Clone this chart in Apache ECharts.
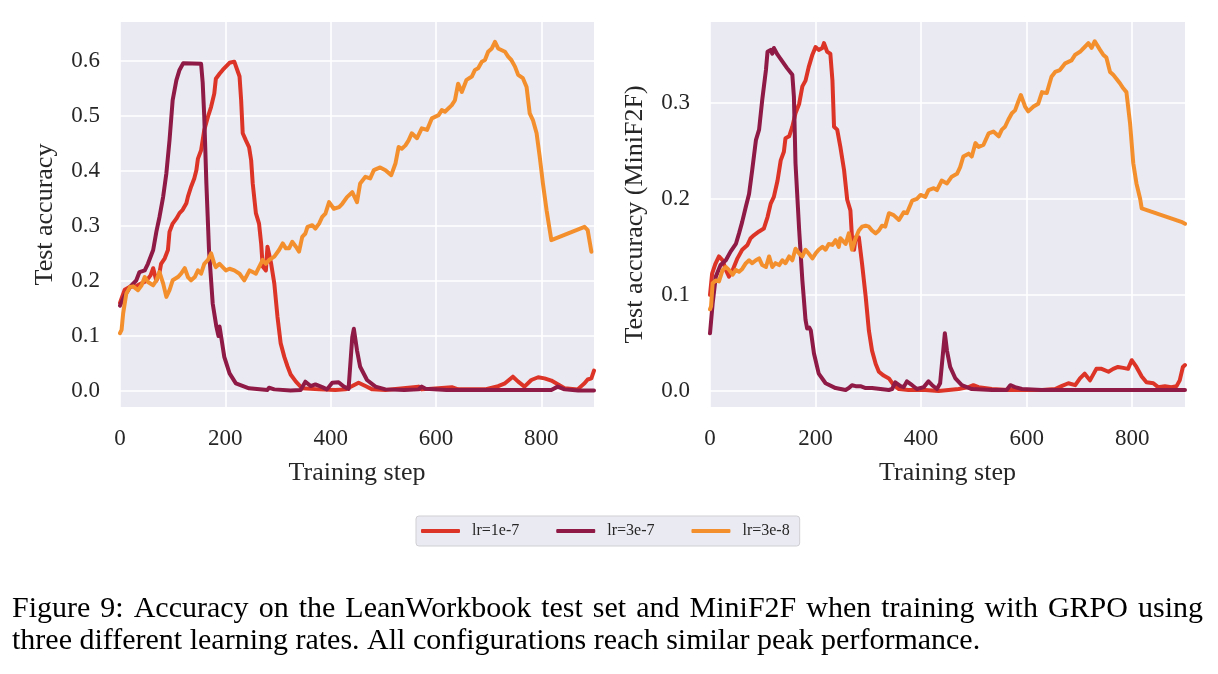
<!DOCTYPE html>
<html>
<head>
<meta charset="utf-8">
<title>Test accuracy vs training step</title>
<script src="https://cdn.jsdelivr.net/npm/echarts@6/dist/echarts.min.js"></script>
<style>
	html, body { margin: 0; padding: 0; background: #fff; }
	#main { width: 1218px; height: 674px; }
</style>
</head>
<body>
<div id="main"></div>
<script>
// x ticks / y ticks
var stepTicks = [0, 200, 400, 600, 800];
var lwTicks = [0, 0.1, 0.2, 0.3, 0.4, 0.5, 0.6];
var mfTicks = [0, 0.1, 0.2, 0.3];
var seriesNames = ['lr=1e-7', 'lr=3e-7', 'lr=3e-8'];
var captionLine1 = 'Figure 9: Accuracy on the LeanWorkbook test set and MiniF2F when training with GRPO using';
var captionLine2 = 'three different learning rates. All configurations reach similar peak performance.';

// LeanWorkbook test accuracy, [step, acc]
var lwLr1e7 = [[0,0.16],[3,0.168],[9,0.184],[20,0.19],[30,0.19],[40,0.195],[50,0.2],[58,0.21],[63,0.223],[69,0.2],[75,0.215],[78,0.231],[85,0.241],[91,0.256],[94,0.289],[100,0.304],[107,0.313],[113,0.323],[119,0.329],[126,0.341],[129,0.353],[135,0.371],[141,0.386],[145,0.401],[148,0.422],[154,0.437],[160,0.474],[167,0.498],[173,0.516],[179,0.54],[182,0.567],[189,0.576],[195,0.583],[201,0.589],[208,0.596],[217,0.598],[220,0.595],[227,0.571],[230,0.528],[233,0.468],[239,0.455],[245,0.443],[249,0.419],[252,0.377],[258,0.323],[264,0.304],[268,0.268],[271,0.226],[277,0.219],[280,0.262],[283,0.265],[287,0.231],[293,0.195],[299,0.135],[305,0.087],[312,0.062],[318,0.045],[324,0.03],[334,0.017],[346,0.005],[378,0.003],[409,0.002],[428,0.003],[441,0.009],[453,0.015],[466,0.009],[479,0.003],[504,0.002],[567,0.008],[573,0.003],[630,0.007],[642,0.003],[693,0.003],[718,0.009],[731,0.014],[746,0.026],[756,0.017],[768,0.008],[781,0.02],[794,0.025],[806,0.023],[819,0.019],[832,0.012],[844,0.005],[869,0.003],[882,0.014],[888,0.021],[895,0.023],[900,0.037]];
var lwLr3e7 = [[0,0.155],[10,0.175],[20,0.19],[25,0.195],[31,0.201],[37,0.216],[47,0.219],[53,0.231],[63,0.256],[69,0.289],[75,0.316],[82,0.353],[88,0.395],[94,0.455],[100,0.528],[107,0.564],[113,0.583],[120,0.595],[154,0.594],[157,0.56],[160,0.498],[164,0.377],[169,0.256],[176,0.159],[183,0.117],[187,0.1],[189,0.117],[192,0.099],[198,0.062],[208,0.032],[220,0.014],[245,0.005],[280,0.002],[283,0.006],[293,0.003],[324,0.001],[343,0.002],[352,0.017],[362,0.009],[371,0.012],[384,0.007],[393,0.003],[403,0.015],[415,0.016],[425,0.008],[434,0.004],[441,0.098],[444,0.113],[450,0.074],[456,0.044],[469,0.02],[485,0.008],[504,0.003],[540,0.002],[567,0.003],[573,0.008],[580,0.004],[620,0.002],[700,0.002],[819,0.002],[831,0.008],[844,0.003],[870,0.001],[900,0.001]];
var lwLr3e8 = [[0,0.105],[3,0.111],[6,0.141],[12,0.177],[19,0.189],[25,0.19],[34,0.183],[41,0.192],[47,0.207],[53,0.198],[63,0.192],[69,0.201],[75,0.216],[82,0.195],[88,0.171],[94,0.183],[100,0.201],[110,0.207],[116,0.213],[123,0.223],[129,0.207],[135,0.201],[142,0.207],[148,0.219],[154,0.213],[160,0.231],[167,0.238],[173,0.25],[179,0.231],[182,0.225],[189,0.231],[195,0.225],[201,0.219],[208,0.222],[217,0.219],[227,0.213],[236,0.201],[246,0.219],[252,0.216],[258,0.213],[264,0.225],[271,0.238],[277,0.231],[283,0.238],[293,0.244],[302,0.256],[309,0.268],[315,0.259],[321,0.259],[327,0.271],[334,0.262],[340,0.253],[346,0.28],[352,0.286],[356,0.298],[365,0.301],[371,0.295],[378,0.304],[384,0.316],[390,0.322],[397,0.343],[406,0.331],[416,0.334],[422,0.34],[431,0.352],[441,0.361],[450,0.343],[456,0.377],[466,0.389],[475,0.386],[482,0.401],[494,0.406],[504,0.401],[515,0.392],[523,0.413],[529,0.443],[535,0.44],[542,0.446],[548,0.455],[554,0.468],[564,0.459],[573,0.477],[583,0.474],[592,0.495],[605,0.501],[611,0.51],[617,0.507],[630,0.519],[636,0.528],[642,0.558],[649,0.543],[658,0.565],[668,0.571],[674,0.583],[680,0.586],[687,0.598],[693,0.601],[699,0.616],[706,0.622],[712,0.634],[718,0.622],[731,0.616],[737,0.607],[743,0.601],[750,0.589],[756,0.574],[765,0.568],[772,0.552],[778,0.504],[784,0.492],[791,0.468],[797,0.425],[803,0.377],[810,0.328],[816,0.292],[819,0.274],[882,0.298],[888,0.292],[895,0.253]];

// MiniF2F test accuracy, [step, acc]
var mfLr1e7 = [[0,0.1],[4,0.122],[10,0.132],[17,0.14],[24,0.136],[30,0.126],[36,0.119],[43,0.126],[52,0.138],[61,0.147],[71,0.152],[77,0.159],[83,0.162],[93,0.166],[102,0.169],[109,0.181],[115,0.195],[121,0.202],[128,0.219],[134,0.24],[140,0.249],[143,0.263],[150,0.265],[156,0.275],[162,0.289],[169,0.299],[175,0.317],[181,0.323],[187,0.337],[194,0.35],[200,0.358],[206,0.355],[213,0.357],[216,0.362],[222,0.353],[228,0.351],[232,0.323],[235,0.275],[241,0.272],[247,0.254],[254,0.23],[260,0.199],[266,0.188],[269,0.16],[273,0.147],[276,0.16],[282,0.16],[288,0.133],[295,0.098],[301,0.063],[307,0.042],[314,0.028],[320,0.02],[329,0.016],[339,0.013],[348,0.006],[358,0.002],[376,0.001],[408,0.001],[433,0],[452,0.001],[471,0.002],[490,0.004],[499,0.006],[509,0.004],[534,0.002],[565,0.001],[629,0.001],[654,0.002],[666,0.005],[679,0.008],[692,0.006],[701,0.013],[710,0.018],[720,0.011],[732,0.023],[742,0.023],[755,0.02],[764,0.023],[773,0.025],[783,0.024],[792,0.023],[799,0.032],[808,0.025],[818,0.015],[827,0.009],[840,0.008],[849,0.004],[862,0.005],[874,0.004],[884,0.005],[890,0.011],[896,0.025],[900,0.027]];
var mfLr3e7 = [[0,0.06],[5,0.091],[11,0.119],[20,0.131],[30,0.136],[39,0.145],[49,0.153],[55,0.164],[61,0.176],[68,0.192],[74,0.205],[80,0.23],[87,0.261],[93,0.272],[99,0.303],[106,0.334],[109,0.353],[115,0.355],[118,0.351],[121,0.357],[128,0.35],[137,0.343],[146,0.336],[156,0.329],[159,0.306],[162,0.237],[169,0.167],[175,0.115],[181,0.074],[184,0.065],[188,0.066],[191,0.063],[197,0.039],[206,0.018],[219,0.008],[238,0.003],[257,0.001],[263,0.003],[269,0.006],[276,0.005],[285,0.005],[295,0.003],[307,0.003],[323,0.002],[339,0.001],[345,0.002],[351,0.009],[361,0.005],[367,0.004],[373,0.01],[383,0.006],[392,0.002],[405,0.004],[414,0.01],[421,0.006],[430,0.002],[436,0.008],[445,0.06],[449,0.042],[455,0.025],[465,0.013],[477,0.006],[496,0.002],[534,0.001],[562,0.001],[569,0.006],[578,0.004],[591,0.002],[629,0.001],[700,0.001],[780,0.001],[900,0.001]];
var mfLr3e8 = [[0,0.085],[2,0.088],[5,0.112],[11,0.115],[17,0.114],[24,0.126],[30,0.129],[36,0.126],[43,0.121],[49,0.126],[55,0.124],[61,0.127],[68,0.133],[74,0.136],[80,0.133],[87,0.136],[93,0.138],[99,0.131],[106,0.129],[112,0.14],[118,0.129],[124,0.133],[131,0.131],[137,0.136],[143,0.133],[150,0.14],[156,0.136],[162,0.148],[169,0.143],[175,0.14],[181,0.147],[187,0.143],[194,0.138],[200,0.143],[206,0.147],[213,0.15],[219,0.147],[225,0.153],[232,0.152],[238,0.157],[244,0.15],[247,0.159],[257,0.153],[263,0.164],[269,0.147],[276,0.159],[282,0.167],[288,0.171],[295,0.172],[301,0.171],[307,0.167],[314,0.164],[320,0.167],[326,0.172],[332,0.171],[339,0.185],[348,0.183],[358,0.178],[367,0.186],[373,0.185],[383,0.198],[392,0.2],[399,0.204],[408,0.202],[414,0.209],[424,0.211],[430,0.209],[439,0.219],[449,0.216],[458,0.223],[468,0.226],[474,0.233],[480,0.244],[490,0.247],[496,0.244],[503,0.258],[509,0.254],[518,0.256],[528,0.268],[537,0.27],[547,0.265],[553,0.272],[559,0.275],[565,0.282],[572,0.289],[578,0.292],[584,0.301],[589,0.308],[597,0.296],[603,0.291],[613,0.296],[622,0.299],[629,0.311],[638,0.31],[647,0.327],[654,0.332],[663,0.334],[673,0.341],[685,0.344],[692,0.35],[701,0.353],[710,0.358],[717,0.362],[723,0.357],[729,0.364],[739,0.355],[745,0.35],[751,0.347],[758,0.332],[764,0.329],[770,0.325],[777,0.32],[783,0.315],[789,0.311],[796,0.278],[802,0.237],[808,0.216],[815,0.2],[818,0.19],[893,0.176],[900,0.174]];

var colors = ['#dc3427', '#8e1a45', '#f48f2e'];
var serif = '"Liberation Serif", "DejaVu Serif", serif';
var ink = '#262626';
var captionFont = '30px ' + serif;

function xAxisFor(gridIndex) {
	return {
		type : 'value',
		gridIndex : gridIndex,
		min : 0,
		max : 900,
		name : 'Training step',
		nameLocation : 'middle',
		nameGap : 53,
		nameTextStyle : { fontFamily : serif, fontSize : 26, color : ink },
		axisLine : { show : false },
		axisTick : { show : false, customValues : stepTicks },
		axisLabel : { customValues : stepTicks, fontFamily : serif, fontSize : 23, color : ink, margin : 20 },
		splitLine : { show : true, lineStyle : { color : '#fff', width : 1.6 } }
	};
}

function yAxisFor(gridIndex, lo, hi, ticks, title) {
	return {
		type : 'value',
		gridIndex : gridIndex,
		min : lo,
		max : hi,
		name : title,
		nameLocation : 'middle',
		nameGap : 62,
		nameTextStyle : { fontFamily : serif, fontSize : 26, color : ink },
		axisLine : { show : false },
		axisTick : { show : false, customValues : ticks },
		axisLabel : {
			customValues : ticks,
			fontFamily : serif, fontSize : 23, color : ink, margin : 20,
			formatter : function(v) { return v.toFixed(1); }
		},
		splitLine : { show : true, lineStyle : { color : '#fff', width : 1.6 } }
	};
}

function lineFor(name, data, idx) {
	return {
		name : name,
		type : 'line',
		xAxisIndex : idx,
		yAxisIndex : idx,
		data : data,
		showSymbol : false,
		symbol : 'none',
		color : colors[seriesNames.indexOf(name)],
		lineStyle : { width : 4, cap : 'round', join : 'round' },
		animation : false
	};
}

// caption line 1 is justified like the paper: spread words from x0 to x1
function justified(text, x0, x1, y) {
	var ctx = document.createElement('canvas').getContext('2d');
	ctx.font = captionFont;
	var words = text.split(' ');
	var widths = words.map(function(w) { return ctx.measureText(w).width; });
	var total = widths.reduce(function(a, b) { return a + b; }, 0);
	var gap = (x1 - x0 - total) / (words.length - 1);
	var out = [], x = x0;
	words.forEach(function(w, i) {
		out.push({ type : 'text', x : x, y : y, style : { text : w, font : captionFont, fill : '#000', verticalAlign : 'top' } });
		x += widths[i] + gap;
	});
	return out;
}

var chart = echarts.init(document.getElementById('main'), null, { renderer : 'canvas' });

var option = {
	backgroundColor : '#ffffff',
	animation : false,
	grid : [
		{ left : 120, top : 22, width : 474, height : 385, show : true, backgroundColor : '#eaeaf2', borderWidth : 0 },
		{ left : 710, top : 22, width : 475, height : 385, show : true, backgroundColor : '#eaeaf2', borderWidth : 0 }
	],
	xAxis : [ xAxisFor(0), xAxisFor(1) ],
	yAxis : [
		yAxisFor(0, -0.029, 0.67, lwTicks, 'Test accuracy'),
		yAxisFor(1, -0.0167, 0.384, mfTicks, 'Test accuracy (MiniF2F)')
	],
	legend : {
		data : seriesNames,
		left : 416,
		top : 516,
		orient : 'horizontal',
		icon : 'roundRect',
		itemWidth : 39,
		itemHeight : 4,
		itemGap : 37,
		padding : [7, 10, 7, 5],
		backgroundColor : '#eaeaf2',
		borderColor : '#cfcfd4',
		borderWidth : 1,
		borderRadius : 3,
		textStyle : { fontFamily : serif, fontSize : 16, color : ink, padding : [0, 0, 0, 7] }
	},
	graphic : justified(captionLine1, 12, 1203, 594).concat([
		{ type : 'text', x : 12, y : 626, style : { text : captionLine2, font : captionFont, fill : '#000', verticalAlign : 'top' } }
	]),
	series : [
		lineFor('lr=1e-7', lwLr1e7, 0),
		lineFor('lr=3e-7', lwLr3e7, 0),
		lineFor('lr=3e-8', lwLr3e8, 0),
		lineFor('lr=1e-7', mfLr1e7, 1),
		lineFor('lr=3e-7', mfLr3e7, 1),
		lineFor('lr=3e-8', mfLr3e8, 1)
	]
};

chart.setOption(option);
</script>
</body>
</html>
